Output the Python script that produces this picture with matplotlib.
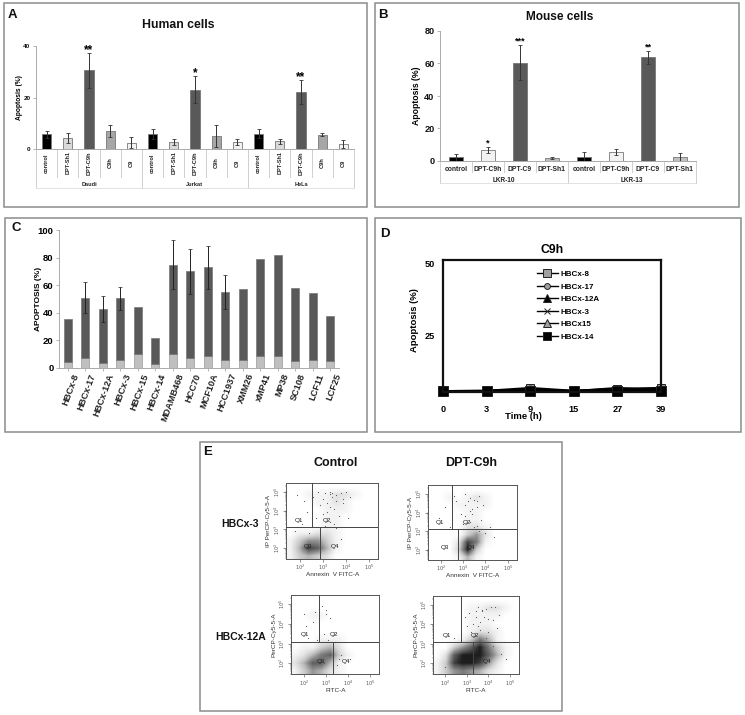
import numpy as np
import matplotlib
matplotlib.use('Agg')
import matplotlib.pyplot as plt
from matplotlib.patches import Rectangle
from matplotlib.transforms import blended_transform_factory as btf, ScaledTranslation

plt.rcParams['font.family'] = ['Liberation Sans', 'DejaVu Sans']

# ---- Panel A
a_groups = ['Daudi', 'Jurkat', 'HeLa']
a_cats = ['control', 'DPT-Sh1', 'DPT-C9h', 'C9h', 'C9']
a_vals = [5.7, 4.3, 30.5, 7.0, 2.5, 5.8, 2.7, 23.0, 5.2, 2.7, 6.0, 3.0, 22.0, 5.6, 1.9]
a_errs = [1.3, 2.1, 6.8, 2.5, 2.0, 2.1, 1.3, 5.3, 4.3, 1.0, 1.6, 1.0, 4.7, 0.6, 1.7]
a_cols = ['#000000', '#d9d9d9', '#595959', '#a6a6a6', '#f2f2f2']
a_stars = {2: '**', 7: '*', 12: '**'}
# ---- Panel B
b_groups = ['LKR-10', 'LKR-13']
b_cats = ['control', 'DPT-C9h', 'DPT-C9', 'DPT-Sh1']
b_vals = [2.3, 6.7, 60.5, 1.8, 2.6, 5.7, 63.7, 2.6]
b_errs = [2.0, 2.0, 10.7, 0.5, 2.9, 1.7, 4.2, 2.3]
b_cols = ['#000000', '#f2f2f2', '#595959', '#bfbfbf']
b_stars = {1: '*', 2: '***', 6: '**'}
# ---- Panel C
c_cats = ['HBCx-8', 'HBCx-17', 'HBCx-12A', 'HBCx-3', 'HBCx-15', 'HBCx-14', 'MDAMB468', 'HCC70',
          'MCF10A', 'HCC1937', 'XMM26', 'xMP41', 'MP38', 'SC108', 'LCF11', 'LCF25']
c_low = [4, 7, 3.5, 5.5, 10, 3, 10, 7, 9, 5.5, 5.5, 9, 9, 5, 5.5, 5]
c_up = [31.5, 44, 39.5, 45, 34, 19, 65, 63, 64, 49.5, 51.5, 70, 73, 53, 48.5, 33]
c_err = [0, 11, 9.5, 8.5, 0, 0, 17.5, 16.5, 15.5, 12.5, 0, 0, 0, 0, 0, 0]
# ---- Panel D
d_times = ['0', '3', '9', '15', '27', '39']
d_names = ['HBCx-8', 'HBCx-17', 'HBCx-12A', 'HBCx-3', 'HBCx15', 'HBCx-14']
d_8 = [5.3, 5.4, 6.4, 5.4, 6.1, 6.4]
d_17 = [5.3, 5.3, 5.9, 5.3, 5.9, 5.8]
d_12a = [5.2, 5.3, 5.6, 5.2, 5.8, 5.5]
d_3 = [5.3, 5.4, 5.7, 5.3, 6.4, 5.6]
d_15 = [5.2, 5.3, 5.8, 5.3, 6.0, 5.7]
d_14 = [5.2, 5.3, 5.4, 5.2, 5.5, 5.4]
d_styles = [('s', '#a0a0a0', 6), ('o', '#a0a0a0', 5), ('^', 'k', 6), ('x', 'k', 5), ('^', '#a0a0a0', 6), ('s', 'k', 7)]

# ---- Panel E: density grids (rows top to bottom, log y 5.4..1.4; columns log x 1.4..5.4)
e1_grid = [[0,0,0,0,0,0,0,0,0,0],
           [0,0,1,1,1,2,2,1,0,0],
           [0,0,0,1,1,2,1,0,0,0],
           [0,0,0,0,1,1,1,0,0,0],
           [0,0,0,0,1,1,0,0,0,0],
           [0,0,0,0,1,1,0,0,0,0],
           [0,1,1,2,2,1,0,0,0,0],
           [1,3,5,5,3,1,0,0,0,0],
           [1,4,8,7,4,1,0,0,0,0],
           [1,3,4,3,2,0,0,0,0,0]]
e2_grid = [[0,0,0,0,0,0,0,0,0,0],
           [0,0,1,0,1,2,1,0,0,0],
           [0,0,0,1,1,1,1,0,0,0],
           [0,0,0,0,1,1,0,0,0,0],
           [0,0,0,0,1,1,0,0,0,0],
           [0,0,0,0,2,2,1,0,0,0],
           [0,0,0,0,3,5,2,0,0,0],
           [0,0,0,2,8,6,1,0,0,0],
           [0,0,0,3,9,3,0,0,0,0],
           [0,0,0,1,4,1,0,0,0,0]]
e3_grid = [[0,0,0,0,0,0,0,0,0,0],
           [0,0,0,0,0,0,0,0,0,0],
           [0,0,1,1,0,0,0,0,0,0],
           [0,0,0,0,0,0,0,0,0,0],
           [0,0,0,0,0,0,0,0,0,0],
           [0,0,0,1,1,1,0,0,0,0],
           [0,1,1,3,4,2,0,0,0,0],
           [1,2,4,6,7,3,1,0,0,0],
           [2,4,7,7,4,1,0,0,0,0],
           [1,3,5,4,2,1,0,0,0,0]]
e4_grid = [[0,0,0,0,0,0,0,0,0,0],
           [0,0,0,0,1,1,2,2,1,0],
           [0,0,0,0,1,1,1,1,0,0],
           [0,0,0,0,1,1,1,0,0,0],
           [0,0,0,0,1,2,2,1,0,0],
           [0,0,0,1,3,6,4,1,0,0],
           [0,0,3,5,7,9,6,3,1,0],
           [0,2,7,9,9,9,7,4,1,0],
           [1,3,8,9,9,8,5,2,0,0],
           [1,3,5,6,5,4,2,1,0,0]]
e1_dots_x = [1.9,2.2,2.6,2.9,3.1,3.3,3.4,3.6,3.8,4.0,2.3,2.7,3.2,3.5,3.0,3.3,3.7,3.9,2.1,3.1,3.5,4.2,3.3,3.4,3.9,3.6,3.2,3.0,2.8,4.1,3.6,3.3,1.8,2.4,3.8]
e1_dots_y = [4.8,4.5,4.7,4.3,4.9,5.0,4.7,4.8,4.9,5.0,3.9,3.6,4.4,4.1,3.8,3.4,3.7,4.4,3.3,3.2,3.3,4.7,4.85,4.95,4.6,3.1,3.9,4.6,5.0,3.6,4.5,4.2,2.9,2.8,2.5]
e2_dots_x = [2.6,2.2,1.9,3.1,3.2,3.3,3.5,3.7,3.9,3.6,3.4,2.9,3.1,3.3,3.0,3.6,3.8,2.4,4.2,3.5,3.2,3.7,3.0,4.0,3.4,3.3,2.7,3.6,3.1,4.4]
e2_dots_y = [4.9,4.3,3.7,5.0,4.6,4.8,4.7,4.9,4.4,4.3,4.2,3.9,3.8,3.5,3.4,3.3,3.6,3.2,3.2,3.2,3.1,3.0,3.1,2.9,3.9,4.1,4.6,4.6,4.4,2.7]
e3_dots_x = [2.5,2.8,3.0,2.4,2.1,2.9,3.4,3.7,2.6,3.1,2.2,3.3,2.7,3.0,3.6,3.2,2.9,3.5,4.1,2.0]
e3_dots_y = [4.6,4.9,4.5,4.1,3.9,3.5,3.1,2.4,3.2,3.2,3.3,2.7,3.7,4.7,2.2,4.3,2.0,1.9,2.2,4.5]
e4_dots_x = [2.7,3.1,3.5,3.7,3.9,4.1,4.3,3.4,3.8,3.6,4.0,4.2,4.5,3.3,3.0,4.4,3.2,3.6,4.7,4.0,3.5,2.4,4.6,3.9,4.2,3.7,3.4,2.9,4.8,2.0]
e4_dots_y = [4.7,4.6,4.9,4.7,4.8,4.9,4.9,4.4,4.4,4.1,4.3,4.2,4.5,4.0,3.9,3.8,3.6,3.7,3.1,3.6,3.9,3.3,2.5,3.3,2.9,4.75,4.7,4.4,2.2,1.8]

W, H = 745, 715
fig = plt.figure(figsize=(W / 100, H / 100), dpi=100, facecolor='white')
bg = fig.add_axes([0, 0, 1, 1], zorder=0)
bg.set_xlim(0, W); bg.set_ylim(H, 0); bg.axis('off')


def axpx(l, t, r, b, z=2):
    ax = fig.add_axes([l / W, 1 - b / H, (r - l) / W, (b - t) / H], zorder=z)
    ax.patch.set_alpha(0)
    return ax


def frame(l, t, r, b):
    bg.add_patch(Rectangle((l, t), r - l, b - t, fc='white', ec='#8c8c8c', lw=1.1))


def txt(x, y, s, size=8, weight='bold', **kw):
    kw.setdefault('ha', 'center'); kw.setdefault('va', 'center')
    bg.text(x, y, s, fontsize=size, fontweight=weight, color=kw.pop('color', '#111111'), **kw)


frame(4, 3, 367, 207); frame(375, 3, 739, 207); frame(5, 218, 367, 432)
frame(375, 218, 741, 432); frame(200, 442, 562, 711)
txt(12, 15, 'A', 9.5); txt(383, 15, 'B', 9.5); txt(16, 228, 'C', 9.5)
txt(385, 234, 'D', 9.5); txt(208, 452, 'E', 9.5)


def grouped(ax, vals, errs, cats, groups, cols, stars, width, pad1, pad2, ymax, yt, fs_tick, fs_cat, fs_grp, rot, h_px, starfs, catfrac):
    n = len(vals)
    k = len(cats)
    x = np.arange(n)
    colors = [cols[i % k] for i in range(n)]
    ax.bar(x, vals, width=width, color=colors, edgecolor='#777777', lw=0.6)
    ax.errorbar(x, vals, yerr=errs, fmt='none', ecolor='#333333', elinewidth=0.7, capsize=1.3, capthick=0.6)
    star_off = (7 - 0.62 * starfs * 100 / 72) * 0.72
    for i, s in stars.items():
        ax.annotate(s, (i, vals[i] + errs[i]), xytext=(0, star_off), textcoords='offset points',
                    ha='center', va='baseline', fontsize=starfs, fontweight='bold')
    ax.set_xlim(-0.5, n - 0.5); ax.set_ylim(0, ymax)
    ax.set_yticks(yt)
    ax.tick_params(axis='y', labelsize=fs_tick, length=2, width=0.5, color='#999999', pad=2, labelcolor='#111111')
    for l in ax.get_yticklabels():
        l.set_fontweight('bold')
    for s in ['top', 'right']:
        ax.spines[s].set_visible(False)
    for s in ['left', 'bottom']:
        ax.spines[s].set_color('#aaaaaa'); ax.spines[s].set_linewidth(0.7)
    ax.set_xticks([])
    tr = btf(ax.transData, ax.transAxes)
    y1, y2 = -pad1 / h_px, -pad2 / h_px
    for i in range(n + 1):
        end = y2 if i % k == 0 else y1
        ax.plot([i - .5, i - .5], [0, end], color='#cfcfcf', lw=0.7, transform=tr, clip_on=False)
    ax.plot([-.5, n - .5], [y2, y2], color='#dddddd', lw=0.6, transform=tr, clip_on=False)
    for i in range(n):
        ax.text(i, y1 * catfrac, cats[i % k], transform=tr, rotation=rot, ha='center', va='center',
                fontsize=fs_cat, fontweight='bold', color='#222222')
    for g, name in enumerate(groups):
        ax.text((g + .5) * k - .5, y2 + 3 / h_px, name, transform=tr, ha='center', va='center',
                fontsize=fs_grp, fontweight='bold', color='#222222')


# Panel A
axA = axpx(36, 46, 354, 149)
grouped(axA, a_vals, a_errs, a_cats, a_groups, a_cols, a_stars, 0.44, 28, 39, 40, [0, 20, 40], 4.6, 4.1, 4.1, 90, 103, 8.5, 0.5)
axA.set_ylabel('Apoptosis (%)', fontsize=4.8, fontweight='bold', labelpad=1)
axA.yaxis.set_label_coords(-0.04, 0.5)
txt(178, 25, 'Human cells', 8.8)

# Panel B
axB = axpx(440, 31, 696, 161)
grouped(axB, b_vals, b_errs, b_cats, b_groups, b_cols, b_stars, 0.42, 11, 22, 80, [0, 20, 40, 60, 80], 6.6, 4.9, 4.7, 0, 130, 6.5, 0.73)
axB.set_ylabel('Apoptosis (%)', fontsize=6.2, fontweight='bold')
axB.yaxis.set_label_coords(-0.075, 0.5)
txt(560, 17, 'Mouse cells', 8.6)

# Panel C
axC = axpx(59, 230, 339, 368)
xc = np.arange(len(c_cats))
axC.bar(xc, c_low, width=0.46, color='#bfbfbf', edgecolor='#9a9a9a', lw=0.5)
axC.bar(xc, c_up, bottom=c_low, width=0.46, color='#595959', edgecolor='#777777', lw=0.5)
tot = np.add(c_low, c_up)
has = np.array(c_err) > 0
axC.errorbar(xc[has], tot[has], yerr=np.array(c_err)[has], fmt='none', ecolor='#222222', elinewidth=0.7, capsize=1.2, capthick=0.5)
axC.set_xlim(-0.5, len(c_cats) - 0.5); axC.set_ylim(0, 100)
axC.set_yticks(range(0, 101, 20))
axC.tick_params(axis='y', labelsize=6.8, length=2, width=0.5, color='#999999', pad=2)
axC.set_xticks(xc)
axC.set_xticklabels(c_cats, rotation=70, ha='right', rotation_mode='anchor', fontsize=6.6, fontweight='bold', color='#222222')
axC.tick_params(axis='x', length=2, width=0.5, color='#999999', pad=1)
shift = ScaledTranslation(4 / 100, 0, fig.dpi_scale_trans)
for l in axC.get_xticklabels():
    l.set_transform(l.get_transform() + shift)
for l in axC.get_yticklabels():
    l.set_fontweight('bold')
for s in ['top', 'right']:
    axC.spines[s].set_visible(False)
for s in ['left', 'bottom']:
    axC.spines[s].set_color('#aaaaaa'); axC.spines[s].set_linewidth(0.7)
axC.set_ylabel('APOPTOSIS (%)', fontsize=6, fontweight='bold')
axC.yaxis.set_label_coords(-0.062, 0.5)

# Panel D
axD = axpx(443, 260, 661, 392)
xd = np.arange(len(d_times))
for yv, nm, (m, c, ms) in zip([d_8, d_17, d_12a, d_3, d_15, d_14], d_names, d_styles):
    axD.plot(xd, yv, color='k', lw=1.6, marker=m, mfc=c, mec='#222222', ms=ms, mew=0.7, label=nm, clip_on=False)
axD.lines[-1].set_markersize(7.5)
axD.set_xlim(0, 5); axD.set_ylim(5, 51.4)
axD.set_yticks([25, 50]); axD.set_xticks(xd); axD.set_xticklabels(d_times)
axD.tick_params(length=0, labelsize=6.6, pad=9)
axD.tick_params(axis='y', pad=6)
for l in axD.get_xticklabels() + axD.get_yticklabels():
    l.set_fontweight('bold')
for s in axD.spines.values():
    s.set_linewidth(1.6); s.set_color('#111111')
axD.set_ylabel('Apoptosis (%)', fontsize=6.8, fontweight='bold')
axD.yaxis.set_label_coords(-0.108, 0.545)
axD.set_xlabel('Time (h)', fontsize=6.8, fontweight='bold')
axD.xaxis.set_label_coords(0.37, -0.155)
axD.set_title('C9h', fontsize=8.8, fontweight='bold', pad=5)
handles, labels = axD.get_legend_handles_labels()
leg = axD.legend(handles, labels, loc='upper left', bbox_to_anchor=(0.43, 0.92), frameon=False,
                 prop={'size': 5.8, 'weight': 'bold'}, handlelength=2.6, labelspacing=0.6,
                 handletextpad=0.35, borderaxespad=0, borderpad=0, markerscale=0.85)
for h in leg.get_lines():
    h.set_linewidth(1.0)

# Panel E
flow = [
    (198 + 265 / 3, 440 + 128 / 3, 198 + 541 / 3, 440 + 357 / 3, e1_grid, e1_dots_x, e1_dots_y, 2.55, 2.9, 3.15, 'Annexin  V FITC-A', 'IP PerCP-Cy5-5-A'),
    (198 + 690 / 3, 440 + 136 / 3, 198 + 957 / 3, 440 + 360 / 3, e2_grid, e2_dots_x, e2_dots_y, 2.52, 2.75, 3.13, 'Annexin  V FITC-A', 'IP PerCP-Cy5-5-A'),
    (198 + 280 / 3, 440 + 465 / 3, 198 + 544 / 3, 440 + 703 / 3, e3_grid, e3_dots_x, e3_dots_y, 2.7, 3.3, 3.1, 'FITC-A', 'PerCP-Cy5-5-A'),
    (198 + 705 / 3, 440 + 467 / 3, 198 + 963 / 3, 440 + 703 / 3, e4_grid, e4_dots_x, e4_dots_y, 2.7, 3.3, 3.1, 'FITC-A', 'PerCP-Cy5-5-A'),
]
minor = [np.log10(k) + d for d in (1, 2, 3, 4, 5) for k in range(2, 10)]
for l, t, r, b, grid, dx, dy, vt, vb, hy, xl, yl in flow:
    ax = axpx(l, t, r, b)
    ax.imshow(np.array(grid, float), extent=(1.4, 5.4, 1.4, 5.4), cmap='Greys', vmin=0, vmax=10,
              interpolation='bilinear', aspect='auto', zorder=1)
    ax.scatter(dx, dy, s=0.7, c='#555555', lw=0, zorder=2)
    ax.set_xlim(1.42, 5.42); ax.set_ylim(1.44, 5.47)
    ax.plot([vt, vt], [hy, 5.47], color='#444444', lw=0.7, zorder=3)
    ax.plot([vb, vb], [1.44, hy], color='#444444', lw=0.7, zorder=3)
    ax.axhline(hy, color='#444444', lw=0.7, zorder=3)
    ax.set_xticks([2, 3, 4, 5]); ax.set_yticks([2, 3, 4, 5])
    ax.set_xticklabels(['$10^{%d}$' % d for d in (2, 3, 4, 5)], fontsize=3.5, color='#555555')
    ax.set_yticklabels(['$10^{%d}$' % d for d in (2, 3, 4, 5)], fontsize=3.5, rotation=90, va='center', color='#555555')
    ax.set_xticks([v for v in minor if 1.42 < v < 5.42], minor=True)
    ax.set_yticks([v for v in minor if 1.44 < v < 5.47], minor=True)
    ax.tick_params(length=2, width=0.4, pad=1, color='#444444')
    ax.tick_params(which='minor', length=1, width=0.3, color='#444444')
    for s in ax.spines.values():
        s.set_linewidth(0.7); s.set_color('#555555')
    ax.set_xlabel(xl, fontsize=4.6, color='#333333', labelpad=0)
    ax.set_ylabel(yl, fontsize=4.6, color='#333333', labelpad=1)
    fs = 4.6
    ax.text((1.42 + vt) / 2, 3.45, 'Q1', fontsize=fs, ha='center', va='center', color='#222222')
    ax.text(vt + 0.65, 3.45, 'Q2', fontsize=fs, ha='center', va='center', color='#222222')
    ax.text(vb - 0.55, 2.1, 'Q3', fontsize=fs, ha='center', va='center', color='#222222')
    ax.text(vb + 0.62, 2.1, 'Q4', fontsize=fs, ha='center', va='center', color='#222222')

txt(198 + 412 / 3, 440 + 69 / 3, 'Control', 9)
txt(198 + 818 / 3, 440 + 69 / 3, 'DPT-C9h', 9)
txt(198 + 127 / 3, 440 + 253 / 3, 'HBCx-3', 7.5)
txt(198 + 127 / 3, 440 + 591 / 3, 'HBCx-12A', 7.5)

fig.savefig('out.png', dpi=100)
